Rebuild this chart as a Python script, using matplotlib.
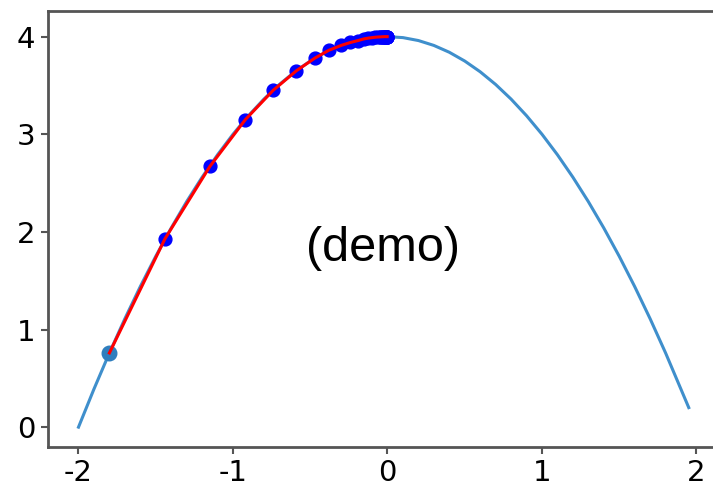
import matplotlib
matplotlib.use("Agg")
import matplotlib.pyplot as plt

plt.rcParams["axes.unicode_minus"] = False

# parabola
curve_x = [-2.0, -1.9, -1.8, -1.7, -1.6, -1.5, -1.4, -1.3, -1.2, -1.1, -1.0,
           -0.9, -0.8, -0.7, -0.6, -0.5, -0.4, -0.3, -0.2, -0.1, 0.0,
           0.1, 0.2, 0.3, 0.4, 0.5, 0.6, 0.7, 0.8, 0.9, 1.0,
           1.1, 1.2, 1.3, 1.4, 1.5, 1.6, 1.7, 1.8, 1.95]
curve_y = [0.0, 0.39, 0.76, 1.11, 1.44, 1.75, 2.04, 2.31, 2.56, 2.79, 3.0,
           3.19, 3.36, 3.51, 3.64, 3.75, 3.84, 3.91, 3.96, 3.99, 4.0,
           3.99, 3.96, 3.91, 3.84, 3.75, 3.64, 3.51, 3.36, 3.19, 3.0,
           2.79, 2.56, 2.31, 2.04, 1.75, 1.44, 1.11, 0.76, 0.20]

# steps taken towards the top
start_x = -1.8
start_y = 0.76
step_x = [-1.8, -1.44, -1.15, -0.92, -0.74, -0.59, -0.47, -0.38, -0.30, -0.24,
          -0.19, -0.155, -0.124, -0.099, -0.079, -0.063, -0.051, -0.041, -0.033,
          -0.026, -0.021, -0.017, -0.013, -0.011, -0.009, -0.007, -0.005, -0.004,
          -0.003, -0.002]
step_y = [0.76, 1.93, 2.67, 3.15, 3.45, 3.65, 3.78, 3.86, 3.91, 3.94,
          3.96, 3.976, 3.985, 3.99, 3.994, 3.996, 3.997, 3.998, 3.999,
          3.999, 4.0, 4.0, 4.0, 4.0, 4.0, 4.0, 4.0, 4.0,
          4.0, 4.0]

fig = plt.figure(figsize=(7.13, 4.87), dpi=100)
ax = fig.add_axes([0.0673, 0.0828, 0.9415, 0.8947])

ax.plot(curve_x, curve_y, color="#3f8fcc", linewidth=2.2)
ax.scatter([start_x], [start_y], s=110, color="#2f7ebe", zorder=3)
ax.scatter(step_x[1:], step_y[1:], s=85, color="blue", zorder=3)
ax.plot(step_x, step_y, color="red", linewidth=2.2, zorder=4)

ax.text(-0.026, 1.83, "(demo)", fontsize=35, family="Liberation Sans",
        ha="center", va="center")

ax.set_xlim(-2.1975, 2.1475)
ax.set_ylim(-0.2, 4.263)
ax.set_xticks([-2, -1, 0, 1, 2])
ax.set_yticks([0, 1, 2, 3, 4])
ax.tick_params(labelsize=21, length=5, width=1.5, color="#555555", pad=4)
for s in ax.spines.values():
    s.set_color("#555555")
    s.set_linewidth(2)

fig.savefig("out.png", dpi=100)
